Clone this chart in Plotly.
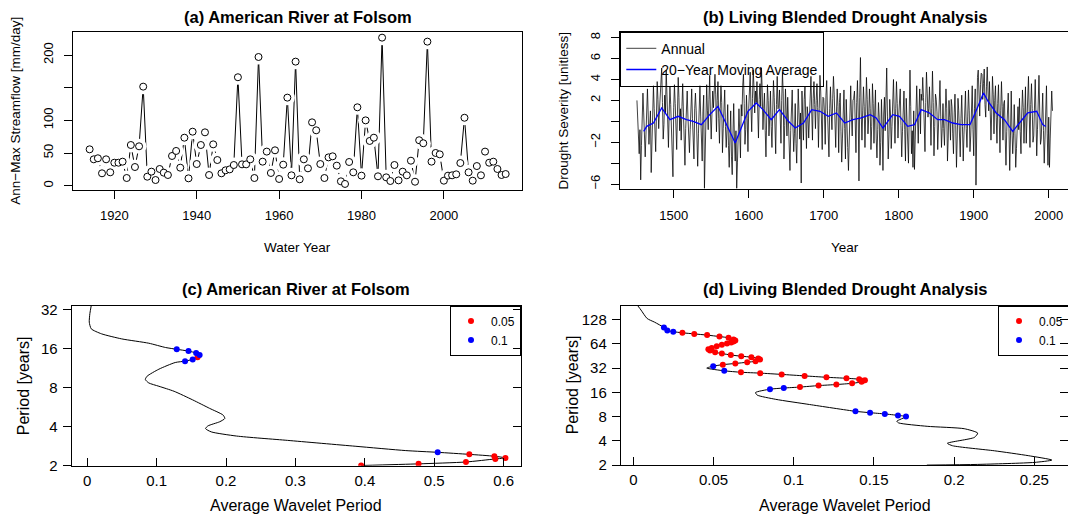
import numpy as np
import plotly.graph_objects as go

W, H = 1068, 516
FONT = "Liberation Sans"

# ---------------- (a) American River at Folsom: annual maximum streamflow
water_years = list(range(1914, 2016))
annmax_flow = [
    55.7, 40.4, 42.0, 19.0, 40.4, 20.5, 35.2, 35.2, 36.8, 11.8,
    62.3, 28.6, 60.3, 151.6, 13.8, 21.5, 8.7, 25.6, 20.0, 16.4,
    45.5, 53.2, 27.6, 73.5, 11.3, 82.7, 33.2, 62.3, 81.7, 16.4,
    63.3, 39.3, 19.0, 23.6, 25.0, 31.7, 166.0, 32.7, 32.7, 40.4,
    11.8, 197.0, 36.8, 52.2, 19.5, 54.2, 10.3, 32.2, 134.8, 15.9,
    189.9, 9.8, 40.4, 26.6, 97.0, 84.8, 33.2, 11.8, 43.4, 45.0,
    30.7, 6.7, 2.7, 36.3, 20.5, 120.0, 15.4, 100.0, 68.5, 73.5,
    14.4, 226.6, 12.8, 7.2, 31.7, 8.2, 21.5, 15.9, 38.3, 6.1,
    69.6, 65.0, 220.5, 36.8, 50.1, 48.0, 7.7, 15.4, 15.9, 17.4,
    34.7, 104.0, 20.5, 7.7, 30.1, 15.9, 52.2, 35.2, 36.8, 25.6,
    16.4, 17.9,
]

# ---------------- (b) Living Blended Drought Analysis
drought_years = list(range(1451, 2006))
drought_annual = [
    2.0, 0.4, -1.6, -3.1, -0.8, -5.6, -2.3, 1.2, 2.7, 0.8,
    -1.0, -3.4, -1.3, 1.6, 3.1, 0.7, -2.2, -0.5, 1.0, -4.9,
    -2.0, 1.4, 3.4, 1.2, -0.9, -2.9, 0.5, 3.8, 2.1, -0.7,
    1.0, 3.0, 4.0, 5.1, 1.8, -1.7, -0.3, 2.5, 0.8, 4.9,
    2.6, -0.5, -2.5, 0.9, 3.3, 1.6, -0.8, -3.0, -5.3, 1.3,
    3.5, 1.7, -1.2, -2.7, 0.7, 4.2, 2.3, -0.9, 1.2, -1.8,
    1.4, 3.6, 0.8, -2.3, -4.2, -0.7, 1.8, 2.9, 0.4, -1.4,
    -3.0, -0.8, 2.3, 3.1, 0.3, -2.0, -3.6, 1.2, 2.7, 1.0,
    -1.6, -4.3, -1.2, 2.0, 3.4, 0.5, -2.3, -3.8, 0.9, 2.5,
    -6.4, -1.8, 1.7, 3.5, 1.0, -0.8, 2.1, 4.4, 0.7, -1.7,
    0.8, 2.9, 1.3, 4.0, 4.5, 2.6, -1.0, 2.0, 3.8, 0.3,
    -2.1, 1.2, 3.4, 1.8, -3.0, -0.7, 2.3, 3.0, -0.5, -2.5,
    -0.8, 1.6, -2.3, -4.4, -1.4, 1.0, -3.4, -5.1, -1.2, 1.7,
    -1.8, -3.8, -0.9, -6.4, -3.9, -1.6, 1.2, -1.0, -3.5, 1.6,
    0.5, 3.4, 4.5, 1.7, -2.2, -0.8, 2.5, 0.3, -2.9, 1.2,
    3.1, 4.7, 1.4, -1.0, 2.2, 4.9, 3.3, 0.8, 2.9, 1.8,
    3.8, 0.9, -1.6, 2.1, 3.6, 1.4, 5.1, 3.0, -0.8, 1.2,
    2.7, -0.9, -3.4, 0.5, 3.5, 2.0, -1.4, 0.4, 2.9, -0.5,
    -2.5, 0.8, 3.9, 2.3, -0.7, -3.1, 1.6, 4.3, 1.2, 1.3,
    3.0, 0.5, -2.1, 2.0, 4.7, 2.7, -3.6, -0.4, 3.1, 0.8,
    -1.4, 2.3, 0.4, -3.3, -4.7, -0.9, 1.8, 3.0, -0.5, -2.9,
    -1.2, 1.7, -2.1, -4.0, -0.5, 3.1, 1.0, -1.7, 0.8, -5.9,
    2.9, 0.7, -1.8, 2.1, 3.3, 0.4, -2.6, 1.4, 0.5, -1.6,
    1.2, 3.4, 4.3, 1.0, -1.8, 2.2, 3.8, 1.6, -0.7, 2.0,
    3.6, 1.3, -2.5, 1.2, 4.4, 2.9, -1.0, -2.7, 2.3, 2.2,
    0.8, -2.2, 2.5, 3.9, 1.0, -1.4, -3.4, 1.2, 3.3, 0.9,
    -0.8, 2.2, 4.3, 2.6, -0.5, -2.5, 0.9, 3.1, 1.4, -3.0,
    1.8, 2.7, -1.0, -3.9, -1.6, 1.2, 3.0, -0.7, -3.6, 2.1,
    0.5, -2.5, -4.7, -0.9, 2.3, 3.4, 0.4, -1.4, 2.0, 2.2,
    2.9, 0.1, -3.0, 1.8, 3.9, 0.7, -5.7, 2.3, 6.1, 0.8,
    -1.8, 1.0, 3.3, 1.4, -2.5, 0.9, 4.2, 2.1, -1.2, 0.4,
    3.1, 1.2, -2.7, -0.5, 3.6, 1.7, -2.1, 0.8, 3.0, -1.6,
    -3.5, -0.8, 1.8, 0.4, -4.2, -2.0, 2.1, -0.5, -4.7, 0.7,
    2.3, -0.9, 2.7, 5.1, 0.5, -3.6, -1.3, 2.1, 0.7, -2.6,
    -0.5, 2.5, 4.0, 0.9, -2.1, 1.2, 3.8, 1.7, -1.6, 0.5,
    2.1, 3.1, -0.4, -3.4, -1.0, 1.7, 2.9, -0.8, -3.8, 2.2,
    0.3, -2.5, -4.0, 0.7, 4.9, 1.4, -3.1, -0.9, -4.4, 1.0,
    -4.6, -1.7, 1.6, 3.4, 0.5, -2.1, 1.0, 3.1, -1.2, 2.6,
    2.0, 4.2, 2.3, -0.8, -2.9, 1.8, 4.7, 2.7, 0.4, 1.2,
    3.3, 0.8, -2.3, 1.2, 4.8, 1.8, -3.3, -0.5, 2.6, 2.1,
    0.9, -2.7, -0.8, 2.9, 3.9, 0.5, -2.5, -0.7, 1.7, -0.7,
    -2.3, 0.8, 3.1, 1.2, -3.8, -1.6, 2.0, 0.4, -1.8, 2.1,
    1.4, -1.2, -3.1, 0.8, 2.6, -0.4, -4.4, -1.6, 2.2, 1.0,
    -1.7, -3.4, 0.3, 2.5, -0.5, -3.8, -1.3, 1.8, 2.9, -0.7,
    -2.5, 0.5, 3.0, 1.0, -2.9, -1.4, 1.6, 3.4, -0.8, -3.3,
    1.2, 3.1, -6.1, 2.3, 4.2, 4.9, 2.7, 0.5, 3.5, 4.6,
    4.5, 2.1, 3.6, 5.0, 1.6, 0.4, 3.3, 5.2, 2.9, 1.0,
    3.8, 1.4, -1.8, 0.8, 4.3, 2.6, -1.2, 2.0, 3.4, 0.4,
    -2.1, 1.7, 3.5, 0.3, -3.0, 1.0, 3.8, 1.4, -1.8, 1.7,
    2.0, -1.6, -4.2, -1.0, 2.1, 2.7, -0.7, -4.7, -1.4, 2.9,
    -0.8, -3.1, -1.4, 1.6, -1.2, -4.4, -2.6, 0.9, 1.4, -0.8,
    2.2, -1.0, -3.1, 0.7, 3.0, 1.3, -2.1, 0.5, 3.3, -2.1,
    0.4, 3.1, 4.3, 0.8, -2.5, 1.6, 3.6, 1.2, -2.0, -1.4,
    3.4, 4.0, 0.5, -3.3, -0.8, 2.5, 4.4, 0.9, -2.2, -1.7,
    1.0, 2.7, -0.9, -4.0, -1.7, 1.8, 3.4, -1.2, -4.2, 0.4,
    -4.4, -1.6, 2.1, 2.9, 1.0,
]
ma_years = [1460, 1464, 1473, 1484, 1495, 1506, 1517, 1526, 1537, 1548,
            1559, 1570, 1582, 1590, 1599, 1610, 1619, 1630, 1641, 1653,
            1662, 1673, 1684, 1695, 1706, 1717, 1728, 1739, 1750, 1762,
            1770, 1779, 1792, 1801, 1812, 1821, 1830, 1841, 1852, 1861,
            1872, 1883, 1895, 1901, 1908, 1913, 1919, 1930, 1941, 1952,
            1961, 1972, 1984, 1992, 1996]
ma_values = [-0.96, -0.48, -0.16, 1.28, 0.16, 0.48, 0.16, 0.0, -0.32, 0.64,
             1.44, -0.32, -2.07, -0.64, 0.96, 1.76, 1.12, 0.16, 1.12, 0.0,
             -0.64, -0.16, 1.12, 0.96, 0.48, 0.8, -0.16, 0.16, 0.32, 0.64,
             0.32, -0.64, 0.64, 0.48, -0.48, -0.32, 1.12, 0.8, 0.16, 0.16,
             -0.16, -0.32, -0.32, 0.64, 1.76, 2.72, 1.92, 0.8, 0.16, -0.96,
             -0.16, 0.8, 0.96, -0.32, -0.5]

# ---------------- (c) global wavelet spectrum, American River
c_power = [0.0059, 0.0039, 0.0030, 0.0059, 0.0205, 0.0497, 0.0887, 0.113,
           0.129, 0.146, 0.157, 0.162, 0.159, 0.152, 0.141, 0.1269, 0.1033,
           0.0863, 0.0838, 0.0887, 0.1033, 0.1252, 0.152, 0.1764, 0.1958,
           0.1983, 0.191, 0.174, 0.1705, 0.1788, 0.2153, 0.2885, 0.386,
           0.459, 0.505, 0.5505, 0.5866, 0.6026, 0.588, 0.5457, 0.4774, 0.3947]
c_period = [34.4, 29.8, 25.6, 22.7, 20.8, 19.0, 17.6, 16.3,
            15.8, 15.3, 14.8, 14.3, 13.7, 13.2, 12.8, 12.5, 11.1,
            9.8, 9.25, 8.7, 8.2, 7.5, 6.44, 5.54, 4.92,
            4.63, 4.37, 4.06, 3.87, 3.65, 3.39, 3.14, 2.83,
            2.62, 2.54, 2.45, 2.37, 2.30, 2.26, 2.14, 2.07, 2.01]
c_signif = ["", "", "", "", "", "", "", "",
            "0.1", "0.1", "0.1", "0.1", "0.05", "0.1", "0.1", "", "",
            "", "", "", "", "", "", "", "",
            "", "", "", "", "", "", "", "",
            "", "0.1", "0.05", "0.05", "0.05", "0.05", "0.05", "0.05", "0.05"]

# ---------------- (d) global wavelet spectrum, drought index
d_power = [0.0027, 0.0048, 0.0086, 0.0132, 0.0191, 0.0212, 0.0249, 0.0306,
           0.038, 0.046, 0.0537, 0.0594, 0.0625, 0.0636, 0.0625, 0.061,
           0.0584, 0.0552, 0.052, 0.0489, 0.0468, 0.0478, 0.051, 0.0552,
           0.0608, 0.0673, 0.0736, 0.0779, 0.079, 0.0762, 0.071, 0.0636,
           0.0558, 0.0498, 0.0458, 0.0567, 0.0671, 0.0791, 0.0925, 0.1068,
           0.1204, 0.1329, 0.1408, 0.1444, 0.143, 0.1423, 0.1364, 0.1266,
           0.1155, 0.1039, 0.0938, 0.0852, 0.0762, 0.0772, 0.0888, 0.1098,
           0.1385, 0.1476, 0.1568, 0.165, 0.170, 0.1643, 0.1654, 0.1832,
           0.2063, 0.2147, 0.2126, 0.1958, 0.199, 0.2252, 0.2462, 0.2609,
           0.250, 0.2147, 0.183]
d_period = [191, 168, 132, 119, 102, 93.7, 90.5, 87.7,
            85.0, 82.1, 78.8, 76.1, 72.5, 70.5, 68.6, 66.7,
            64.4, 62.2, 59.7, 56.9, 54.9, 52.7, 50.2, 48.5,
            46.5, 44.9, 43.7, 42.2, 40.8, 38.9, 37.8, 36.5,
            35.3, 33.8, 32.0, 29.6, 28.4, 27.7, 26.7, 25.6,
            24.6, 23.9, 23.3, 22.6, 22.2, 21.6, 20.7, 20.0,
            19.4, 18.6, 18.1, 17.5, 15.9, 14.8, 13.1, 11.3,
            9.3, 8.94, 8.63, 8.28, 8.0, 7.01, 6.68, 6.06,
            5.66, 4.99, 4.41, 3.73, 3.48, 3.01, 2.62, 2.31,
            2.16, 2.04, 2.0]
d_signif = ["", "", "", "", "0.1", "0.1", "0.1", "0.05",
            "0.05", "0.05", "0.05", "0.05", "0.05", "0.05", "0.05", "0.05",
            "0.05", "0.05", "0.05", "0.05", "0.05", "0.05", "0.05", "0.05",
            "0.05", "0.05", "0.05", "0.05", "0.05", "0.05", "0.05", "0.05",
            "0.05", "0.1", "", "0.1", "0.05", "0.05", "0.05", "0.05",
            "0.05", "0.05", "0.05", "0.05", "0.05", "0.05", "0.05", "0.05",
            "0.05", "0.05", "0.1", "0.1", "", "", "", "",
            "0.1", "0.1", "0.1", "0.1", "0.1", "", "", "",
            "", "", "", "", "", "", "", "",
            "", "", ""]

sig_levels = ["0.05", "0.1"]
sig_colors = {"0.05": "#ff0000", "0.1": "#0000ff"}


def px(x):
    return x / W


def py(y):
    return 1 - y / H


fig = go.Figure()

# (a) line with gaps around the points, then open circles
fig.add_trace(go.Scatter(x=water_years, y=annmax_flow, mode="lines",
                         line=dict(color="black", width=1),
                         xaxis="x", yaxis="y", showlegend=False))
fig.add_trace(go.Scatter(x=water_years, y=annmax_flow, mode="markers",
                         marker=dict(size=15, color="white", line=dict(width=0)),
                         xaxis="x", yaxis="y", showlegend=False))
fig.add_trace(go.Scatter(x=water_years, y=annmax_flow, mode="markers",
                         marker=dict(size=7, color="white",
                                     line=dict(color="black", width=1)),
                         xaxis="x", yaxis="y", showlegend=False))

# (b) annual series and its moving average
fig.add_trace(go.Scatter(x=drought_years, y=drought_annual, mode="lines",
                         name="Annual", line=dict(color="black", width=0.75),
                         xaxis="x2", yaxis="y2", legend="legend"))
fig.add_trace(go.Scatter(x=ma_years, y=ma_values, mode="lines",
                         name="20\u2212Year Moving Average",
                         line=dict(color="#0000ff", width=1.3),
                         xaxis="x2", yaxis="y2", legend="legend"))


def spectrum(power, period, signif, xa, ya, leg):
    fig.add_trace(go.Scatter(x=power, y=period, mode="lines",
                             line=dict(color="black", width=1, shape="spline",
                                       smoothing=0.6),
                             xaxis=xa, yaxis=ya, showlegend=False))
    p = np.array(power)
    q = np.array(period)
    s = np.array(signif)
    for lev in sig_levels:
        m = s == lev
        fig.add_trace(go.Scatter(x=p[m], y=q[m], mode="markers", name=lev,
                                 marker=dict(size=6, color=sig_colors[lev]),
                                 xaxis=xa, yaxis=ya, legend=leg))


spectrum(c_power, c_period, c_signif, "x3", "y3", "legend2")
spectrum(d_power, d_period, d_signif, "x4", "y4", "legend3")

# overlay axes carrying the inward ticks on the right edge of (c) and (d)
fig.add_trace(go.Scatter(x=[None], y=[None], xaxis="x3", yaxis="y5",
                         showlegend=False, hoverinfo="skip"))
fig.add_trace(go.Scatter(x=[None], y=[None], xaxis="x4", yaxis="y6",
                         showlegend=False, hoverinfo="skip"))

TOP_TICK = 13
BOT_TICK = 15


def axis(size, **kw):
    base = dict(showline=True, linecolor="black", linewidth=1,
                ticks="outside", ticklen=8, tickwidth=1, tickcolor="black",
                showgrid=False, zeroline=False,
                tickfont=dict(family=FONT, size=size, color="black"))
    base.update(kw)
    return base


# pixel boxes of the four plot regions: (left, right, top, bottom)
box_a = (73.0, 522.3, 31.7, 189.7)
box_b = (620.3, 1068.0, 31.7, 189.3)
box_c = (71.7, 521.0, 305.6, 465.8)
box_d = (620.8, 1068.0, 305.5, 465.1)


def dom(b):
    return [px(b[0]), min(1.0, px(b[1]))], [py(b[3]), py(b[2])]


xa, ya = dom(box_a)
xb, yb = dom(box_b)
xc, yc = dom(box_c)
xd, yd = dom(box_d)

flow_ticks = [0, 50, 100, 150, 200]
flow_labels = ["0", "50", "100", "", "200"]
sev_ticks = [-6, -4, -2, 0, 2, 4, 6, 8]
sev_labels = ["\u22126", "", "\u22122", "", "2", "4", "6", "8"]
wy_ticks = [1920, 1940, 1960, 1980, 2000]
yr_ticks = [1500, 1600, 1700, 1800, 1900, 2000]
c_xticks = [0, 0.1, 0.2, 0.3, 0.4, 0.5, 0.6]
c_yticks = [2, 4, 8, 16, 32]
d_xticks = [0, 0.05, 0.1, 0.15, 0.2, 0.25]
d_yticks = [2, 4, 8, 16, 32, 64, 128]
c_yrange = [np.log10(2), 5.10 * np.log10(2)]
d_yrange = [np.log10(2), 7.58 * np.log10(2)]

fig.update_layout(
    width=W, height=H,
    margin=dict(l=0, r=0, t=0, b=0, autoexpand=False),
    paper_bgcolor="white", plot_bgcolor="white",
    font=dict(family=FONT, size=13, color="black"),
    xaxis=axis(TOP_TICK, domain=xa, anchor="y", range=[1909.96, 2019.04],
               mirror=True, tickvals=wy_ticks, ticklabelstandoff=6),
    yaxis=axis(TOP_TICK, domain=ya, anchor="x", range=[-6.1, 235.7],
               mirror=True, tickvals=flow_ticks, ticktext=flow_labels,
               tickangle=-90, ticklabelstandoff=6),
    xaxis2=axis(TOP_TICK, domain=xb, anchor="y2", range=[1428.8, 2025.7],
                mirror=True, tickvals=yr_ticks, ticklabelstandoff=6),
    yaxis2=axis(TOP_TICK, domain=yb, anchor="x2", range=[-6.5, 8.57],
                mirror=False, tickvals=sev_ticks, ticktext=sev_labels,
                tickangle=-90, ticklabelstandoff=6),
    xaxis3=axis(BOT_TICK, domain=xc, anchor="y3", range=[-0.0223, 0.625],
                mirror=True, ticks="inside", tickvals=c_xticks,
                ticktext=[f"{v:g}" for v in c_xticks], ticklabelstandoff=1),
    yaxis3=axis(BOT_TICK, domain=yc, anchor="x3", type="log",
                range=c_yrange, mirror=True, tickvals=c_yticks,
                ticktext=[str(v) for v in c_yticks], ticklabelstandoff=2),
    xaxis4=axis(BOT_TICK, domain=xd, anchor="y4", range=[-0.0078, 0.271],
                mirror=True, ticks="inside", tickvals=d_xticks,
                ticktext=[f"{v:g}" for v in d_xticks], ticklabelstandoff=1),
    yaxis4=axis(BOT_TICK, domain=yd, anchor="x4", type="log",
                range=d_yrange, mirror=False, tickvals=d_yticks,
                ticktext=[str(v) for v in d_yticks], ticklabelstandoff=2),
    yaxis5=dict(overlaying="y3", anchor="x3", side="right", type="log",
                range=c_yrange, ticks="inside", ticklen=8, tickcolor="black",
                tickwidth=1, showticklabels=False, showline=False,
                showgrid=False, zeroline=False, tickvals=c_yticks),
    yaxis6=dict(overlaying="y4", anchor="x4", side="right", type="log",
                range=d_yrange, ticks="inside", ticklen=8, tickcolor="black",
                tickwidth=1, showticklabels=False, showline=False,
                showgrid=False, zeroline=False, tickvals=d_yticks),
    legend=dict(x=px(box_b[0]), y=py(box_b[2]), xanchor="left",
                yanchor="top", bgcolor="rgba(0,0,0,0)", bordercolor="black",
                borderwidth=1, font=dict(family=FONT, size=14),
                tracegroupgap=0, itemwidth=30),
    legend2=dict(x=px(box_c[1]), y=py(box_c[2]), xanchor="right",
                 yanchor="top", bgcolor="rgba(0,0,0,0)", bordercolor="black",
                 borderwidth=1, font=dict(family=FONT, size=12),
                 tracegroupgap=0, itemwidth=30),
    legend3=dict(x=px(998), y=py(box_d[2]), xanchor="left",
                 yanchor="top", bgcolor="rgba(0,0,0,0)", bordercolor="black",
                 borderwidth=1, font=dict(family=FONT, size=12),
                 tracegroupgap=0, itemwidth=30),
)


def label(text, x, y, size=13, angle=0, bold=False):
    fig.add_annotation(text=f"<b>{text}</b>" if bold else text,
                       x=px(x), y=py(y), xref="paper", yref="paper",
                       showarrow=False, textangle=angle,
                       font=dict(family=FONT, size=size, color="black"),
                       xanchor="center", yanchor="middle")


def center(b):
    return (b[0] + b[1]) / 2, (b[2] + b[3]) / 2


# panel titles
label("(a) American River at Folsom", center(box_a)[0], 17, 16.5, bold=True)
label("(b) Living Blended Drought Analysis", 845, 17, 16.5, bold=True)
label("(c) American River at Folsom", center(box_c)[0], 289, 16.5, bold=True)
label("(d) Living Blended Drought Analysis", 845, 289, 16.5, bold=True)

# axis titles
label("Water Year", center(box_a)[0], 248, 13.5)
label("Ann\u2212Max Streamflow [mm/day]", 16, center(box_a)[1], 13.5, angle=-90)
label("Year", 845, 248, 13.5)
label("Drought Severity [unitless]", 563, center(box_b)[1], 13.5, angle=-90)
label("Average Wavelet Period", center(box_c)[0], 505, 16)
label("Period [years]", 23.5, center(box_c)[1], 16, angle=-90)
label("Average Wavelet Period", 845, 505, 16)
label("Period [years]", 572, center(box_d)[1], 16, angle=-90)

fig.write_html("out.html")
